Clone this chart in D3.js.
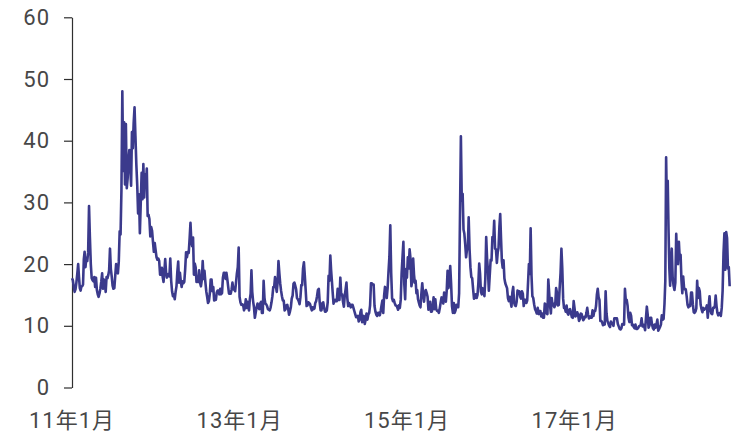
<!DOCTYPE html>
<html><head><meta charset="utf-8">
<script src="https://cdn.jsdelivr.net/npm/d3@7"></script>
<style>body{margin:0;background:#fff}svg{display:block}</style>
</head><body>
<svg id="chart" width="731" height="432"></svg>
<script>
// VIX-like daily index: 8 readings per month, Jan 2011 .. early Nov 2018
const startYear = 2011;
const perMonth = 8;
const vix2011 = [
 17.7,17.4,16.4,15.5,15.9,17.0,18.4,20.0,
 17.9,16.1,15.7,16.4,16.4,16.7,20.8,22.0,
 19.5,21.0,20.5,21.9,29.4,24.3,20.0,17.7,
 17.4,17.2,17.9,16.3,17.8,15.8,15.1,14.7,
 15.2,16.0,17.1,18.5,16.0,17.5,17.1,15.5,
 17.9,17.7,18.2,19.0,22.5,19.2,18.0,16.5,
 16.0,16.1,18.1,20.0,19.5,18.5,20.4,25.3,
 24.8,32.0,48.0,35.1,43.0,32.9,42.7,32.3,
 33.9,37.0,38.5,35.7,32.7,41.4,38.8,42.9,
 45.4,40.8,36.2,32.9,28.2,31.3,25.0,30.0,
 34.8,30.5,36.2,30.8,34.5,32.9,35.5,27.8,
 28.0,27.3,24.5,26.0,25.4,23.6,22.0,23.4];
const vix2012 = [
 22.2,21.1,20.7,20.9,20.5,18.3,18.3,19.4,
 17.9,17.1,18.9,20.8,18.7,17.8,18.2,18.4,
 18.0,20.9,17.3,15.6,14.8,15.1,14.3,15.5,
 16.4,18.8,20.4,17.0,18.6,17.2,16.3,17.2,
 16.9,17.1,19.1,21.9,21.1,22.0,21.8,24.1,
 26.7,23.6,22.9,24.3,18.3,20.1,19.5,17.1,
 17.5,17.1,19.0,17.0,16.4,17.4,20.5,17.6,
 18.9,17.1,15.6,14.7,13.7,14.0,15.2,17.5,
 17.5,15.6,16.3,14.1,14.2,14.2,15.4,15.7,
 15.7,15.1,16.0,15.1,15.3,17.8,18.6,18.6,
 17.6,18.6,17.6,16.4,15.2,15.2,15.2,15.9,
 17.0,15.9,16.1,15.6,17.0,18.5,19.5,22.7];
const vix2013 = [
 14.7,13.8,13.4,13.5,13.4,12.5,12.9,14.3,
 12.9,13.9,13.0,12.5,14.3,15.2,19.0,15.5,
 14.0,13.0,11.3,12.2,13.0,13.6,13.0,12.7,
 13.6,13.9,12.1,12.1,17.3,14.5,13.6,13.5,
 13.2,12.7,12.6,12.5,13.0,13.8,14.8,16.3,
 16.3,17.9,16.4,15.5,17.0,20.5,18.6,16.9,
 15.7,14.8,14.1,14.1,12.5,12.7,13.3,13.4,
 12.7,11.8,12.3,13.0,14.4,14.9,16.8,17.0,
 16.5,15.9,14.5,14.3,14.0,13.5,14.6,16.6,
 16.6,19.3,20.3,18.1,15.7,13.2,13.3,13.8,
 13.7,13.5,12.9,12.5,13.0,12.7,12.8,13.7,
 14.0,14.8,15.8,16.0,13.8,12.5,12.5,13.7];
const vix2014 = [
 13.8,12.9,12.3,12.3,12.5,13.8,18.1,17.3,
 21.4,19.0,17.2,15.3,13.6,14.0,14.2,14.0,
 14.0,16.0,14.2,14.2,17.8,15.0,15.1,13.9,
 13.1,14.9,15.9,17.0,14.5,13.2,13.7,13.4,
 13.0,13.4,13.4,12.9,12.4,11.9,11.4,11.4,
 11.6,10.7,11.0,12.2,12.6,10.6,10.9,11.6,
 10.3,11.0,12.0,11.0,11.8,12.1,13.3,16.9,
 16.9,16.7,16.7,13.2,12.3,11.8,11.6,12.1,
 12.1,11.7,12.4,13.3,14.1,12.1,14.9,16.3,
 15.9,14.5,16.1,18.8,21.2,26.3,18.6,14.5,
 14.0,14.2,13.7,13.3,13.3,13.0,12.6,13.3,
 12.9,14.2,18.5,21.1,23.6,16.8,14.3,19.2];
const vix2015 = [
 17.8,21.1,19.3,22.4,20.9,16.4,17.2,20.9,
 18.3,17.0,17.3,15.3,15.8,14.3,13.8,13.3,
 13.0,15.2,16.9,15.2,13.9,15.4,15.8,15.3,
 14.7,12.6,13.0,13.9,12.3,12.3,13.1,14.6,
 12.7,14.3,12.7,12.4,12.4,12.1,12.9,13.8,
 14.6,14.5,13.6,15.4,14.5,13.9,15.7,18.9,
 16.1,17.0,19.7,16.8,13.2,12.1,13.7,12.1,
 12.5,13.4,13.0,13.0,15.3,28.0,40.7,30.3,
 31.4,25.6,24.9,23.2,21.1,22.3,22.4,27.6,
 22.5,19.5,17.9,17.7,16.0,14.4,14.5,15.1,
 14.5,15.0,16.9,20.1,18.4,15.5,15.1,16.1,
 15.9,14.8,17.6,24.4,20.9,18.9,15.7,18.2];
const vix2016 = [
 20.7,20.6,24.4,23.9,27.0,22.5,22.4,20.2,
 21.9,22.6,26.0,28.1,24.1,20.5,19.4,20.6,
 17.7,16.9,16.5,16.1,14.5,14.0,14.7,13.9,
 13.1,15.4,16.3,13.8,13.3,13.2,13.9,15.7,
 15.6,15.6,14.7,14.4,15.6,15.2,13.2,14.2,
 14.2,13.7,14.1,17.0,20.0,18.4,25.8,18.2,
 14.8,14.5,13.5,12.7,12.4,12.0,12.9,11.9,
 12.4,12.4,11.5,12.0,11.3,11.3,13.6,13.4,
 12.0,11.9,17.5,15.4,13.3,12.0,14.5,13.3,
 13.6,13.0,13.4,16.1,15.3,13.3,13.4,16.2,
 18.6,22.5,19.3,14.4,12.9,12.9,12.3,13.3,
 12.1,11.8,12.6,12.7,12.0,11.4,11.3,14.0];
const vix2017 = [
 12.8,11.5,11.7,12.2,11.8,10.8,11.1,12.0,
 11.9,11.4,10.9,11.1,11.5,11.4,12.1,12.9,
 11.8,11.2,11.5,11.3,11.3,12.5,11.6,12.4,
 12.4,13.2,15.1,16.0,14.6,14.2,10.8,10.8,
 10.6,10.1,10.4,10.2,15.6,12.0,10.8,10.4,
 10.0,9.8,10.7,10.4,10.4,10.0,11.2,11.2,
 11.2,11.2,10.3,9.9,9.5,9.4,9.6,10.3,
 10.3,10.2,16.0,14.0,14.2,13.2,11.3,10.6,
 12.1,11.6,10.1,10.2,9.8,9.6,10.2,9.5,
 9.5,9.6,9.9,10.0,10.1,11.2,9.9,10.2,
 9.9,9.3,11.3,13.1,11.8,9.7,10.0,11.3,
 11.3,10.2,9.6,9.4,10.2,9.7,10.2,11.0];
const vix2018 = [
 9.2,9.5,9.8,10.2,11.7,11.0,11.1,13.5,
 17.3,37.3,29.0,33.5,25.6,19.3,16.5,19.9,
 22.5,17.8,16.5,15.8,17.0,24.9,21.0,20.0,
 23.6,20.9,21.5,17.4,15.3,18.0,16.2,15.9,
 15.9,14.8,13.4,13.0,13.4,13.2,15.4,15.4,
 13.5,12.2,12.1,12.3,12.8,17.3,14.5,16.1,
 15.6,13.4,12.7,12.2,12.9,12.6,12.8,12.8,
 13.3,11.3,13.2,14.8,12.6,12.0,11.9,12.9,
 12.9,13.2,14.9,13.2,12.1,11.7,12.0,12.1,
 11.6,12.9,15.7,21.8,25.0,19.1,25.2,24.2,
 19.3,19.5,16.4];
const yearSeries = [vix2011, vix2012, vix2013, vix2014, vix2015, vix2016, vix2017, vix2018];

const yTicks = [0, 10, 20, 30, 40, 50, 60];
const xTickDates = ["2011-01-01", "2013-01-01", "2015-01-01", "2017-01-01"];
const xTickLabels = ["11年1月", "13年1月", "15年1月", "17年1月"];

const points = [];
yearSeries.forEach((arr, yi) => {
  arr.forEach((v, i) => {
    const m = Math.floor(i / perMonth), j = i % perMonth;
    const s = new Date(startYear + yi, m, 1), e = new Date(startYear + yi, m + 1, 1);
    points.push({ d: new Date(+s + (j + 0.5) / perMonth * (e - s)), v });
  });
});

const svg = d3.select("#chart");
const x = d3.scaleTime().domain([new Date(2011, 0, 1), new Date(2019, 0, 1)]).range([71.5, 741.5]);
const y = d3.scaleLinear().domain([0, 60]).range([387.5, 17.3]);
const font = "Roboto, 'Noto Sans CJK SC', sans-serif";

const ya = svg.append("g").attr("transform", "translate(72,0)")
  .call(d3.axisLeft(y).tickValues(yTicks).tickSize(8).tickSizeOuter(0).tickPadding(14));
ya.select(".domain").attr("stroke", "#2f2f2f").attr("stroke-width", 1.2);
ya.selectAll(".tick line").attr("stroke", "#2f2f2f").attr("stroke-width", 1.2);
ya.selectAll("text").attr("font-family", font).attr("font-size", 22)
  .attr("letter-spacing", 1).attr("fill", "#474747");

const parse = d3.timeParse("%Y-%m-%d");
const xa = svg.append("g").attr("transform", "translate(0,387)")
  .call(d3.axisBottom(x).tickValues(xTickDates.map(parse)).tickSize(0).tickPadding(25)
    .tickFormat((d, i) => xTickLabels[i]));
xa.select(".domain").remove();
xa.selectAll("text").attr("font-family", font).attr("font-size", 22)
  .attr("letter-spacing", 1).attr("fill", "#474747");

svg.append("path").datum(points)
  .attr("fill", "none").attr("stroke", "#3b3a8c").attr("stroke-width", 2.6)
  .attr("stroke-linejoin", "round")
  .attr("d", d3.line().x(p => x(p.d)).y(p => y(p.v)));
</script>
</body></html>
